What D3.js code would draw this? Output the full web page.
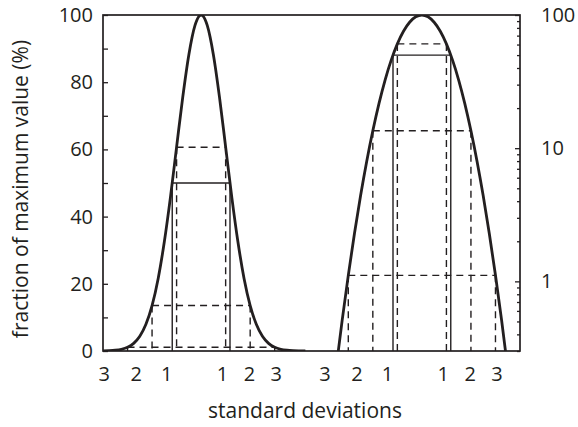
<!DOCTYPE html>
<html><head>
<meta charset="utf-8">
<script src="https://d3js.org/d3.v7.min.js"></script>
<style>
  body { margin: 0; background: #fff; }
  text { font-family: "Open Sans", sans-serif; fill: #231f20; }
</style>
</head>
<body>
<script>

// gaussian profile: offset (in standard deviations) -> % of peak value
const sdOffsets = [-4, -3.75, -3.5, -3.25, -3, -2.75, -2.5, -2.25, -2, -1.75, -1.5, -1.25, -1, -0.75, -0.5, -0.25,
                   0, 0.25, 0.5, 0.75, 1, 1.25, 1.5, 1.75, 2, 2.25, 2.5, 2.75, 3, 3.25, 3.5, 3.75, 4, 4.25];
const pctOfMax = [0.034, 0.088, 0.22, 0.51, 1.11, 2.28, 4.39, 7.95, 13.5, 21.6, 32.5, 45.8, 60.7, 75.5, 88.2, 96.9,
                  100, 96.9, 88.2, 75.5, 60.7, 45.8, 32.5, 21.6, 13.5, 7.95, 4.39, 2.28, 1.11, 0.51, 0.22, 0.088, 0.034, 0.012];

const peakCentres = [0, 9];          // left peak: linear axis, right peak: log axis
const markerSd = [1, 2, 3];          // dashed boxes at 1, 2, 3 sd
const markerPct = [60.65, 13.53, 1.11];
const halfMaxSd = 1.1774;            // solid box at half maximum
const halfMaxPct = 50;

const yMajorLeft = [0, 20, 40, 60, 80, 100];
const yMinorLeft = [10, 30, 50, 70, 90];
const yMajorRight = [1, 10, 100];

const xLabelSd = [-3.95, -2.65, -1.4, 0.87, 1.97, 3.06];
const xLabelText = ["3", "2", "1", "1", "2", "3"];

let width = 578, height = 427;
let margin = { top: 15, right: 58, bottom: 76, left: 103 };
let chartWidth = width - margin.left - margin.right;
let chartHeight = height - margin.top - margin.bottom;
const ink = "#231f20";

let svg = d3.select("body").append("svg").attr("width", width).attr("height", height);
let chart = svg.append("g").attr("transform", "translate(" + margin.left + "," + margin.top + ")");

let xScale = d3.scaleLinear().domain([-4, 13]).range([0, chartWidth]);
let yLin = d3.scaleLinear().domain([0, 100]).range([chartHeight, 0]);
let yLog = d3.scaleLog().domain([0.3, 100]).range([chartHeight, 0]);

svg.append("defs").append("clipPath").attr("id", "plot")
  .append("rect").attr("x", 0).attr("y", 0).attr("width", chartWidth).attr("height", chartHeight);

// left axis (linear)
chart.append("g")
  .call(d3.axisLeft(yLin).tickValues(yMajorLeft).tickSize(-5).tickPadding(10));
chart.append("g")
  .call(d3.axisLeft(yLin).tickValues(yMinorLeft).tickSize(-5).tickFormat(""));

// right axis (log)
let minorRight = yLog.ticks().filter(v => yMajorRight.indexOf(v) < 0);
chart.append("g").attr("transform", "translate(" + chartWidth + ",0)")
  .call(d3.axisRight(yLog).tickValues(yMajorRight).tickSize(-5).tickPadding(21).tickFormat(d3.format("d")));
chart.append("g").attr("transform", "translate(" + chartWidth + ",0)")
  .call(d3.axisRight(yLog).tickValues(minorRight).tickSize(-3).tickFormat(""));

chart.selectAll(".domain").remove();
chart.selectAll(".tick line").attr("stroke", ink).attr("stroke-width", 1.3);
chart.selectAll(".tick text").attr("font-size", 20).attr("font-family", "'Open Sans', sans-serif").attr("fill", ink);

// frame
chart.append("rect").attr("x", 0).attr("y", 0).attr("width", chartWidth).attr("height", chartHeight)
  .attr("fill", "none").attr("stroke", ink).attr("stroke-width", 1.7);

let plot = chart.append("g").attr("clip-path", "url(#plot)");
let profile = sdOffsets.map((s, i) => ({ sd: s, pct: pctOfMax[i] }));

peakCentres.forEach((c, k) => {
  let y = k == 0 ? yLin : yLog;

  // reference boxes
  let boxes = markerSd.map((s, i) => ({ sd: s, pct: markerPct[i], dash: "7,5" }));
  boxes.push({ sd: halfMaxSd, pct: halfMaxPct, dash: null });
  boxes.forEach(b => {
    let g = plot.append("g").attr("stroke", ink).attr("stroke-width", 1.4).attr("fill", "none");
    if (b.dash) g.attr("stroke-dasharray", b.dash);
    g.append("line").attr("x1", xScale(c - b.sd)).attr("x2", xScale(c + b.sd))
      .attr("y1", y(b.pct)).attr("y2", y(b.pct));
    [-1, 1].forEach(side => {
      g.append("line").attr("x1", xScale(c + side * b.sd)).attr("x2", xScale(c + side * b.sd))
        .attr("y1", y(b.pct)).attr("y2", chartHeight);
    });
  });

  // the curve
  let line = d3.line().x(d => xScale(c + d.sd)).y(d => y(d.pct)).curve(d3.curveMonotoneX);
  plot.append("path").datum(profile).attr("d", line)
    .attr("fill", "none").attr("stroke", ink).attr("stroke-width", 2.8);

  // sd labels
  xLabelSd.forEach((s, i) => {
    chart.append("text").attr("x", xScale(c + s)).attr("y", chartHeight + 30)
      .attr("text-anchor", "middle").attr("font-size", 20).text(xLabelText[i]);
  });
});

// axis titles
svg.append("text").attr("x", 305).attr("y", 418)
  .attr("text-anchor", "middle").attr("font-size", 21).text("standard deviations");
svg.append("text").attr("transform", "translate(28,189) rotate(-90)")
  .attr("text-anchor", "middle").attr("font-size", 21).text("fraction of maximum value (%)");

</script>
</body>
</html>
